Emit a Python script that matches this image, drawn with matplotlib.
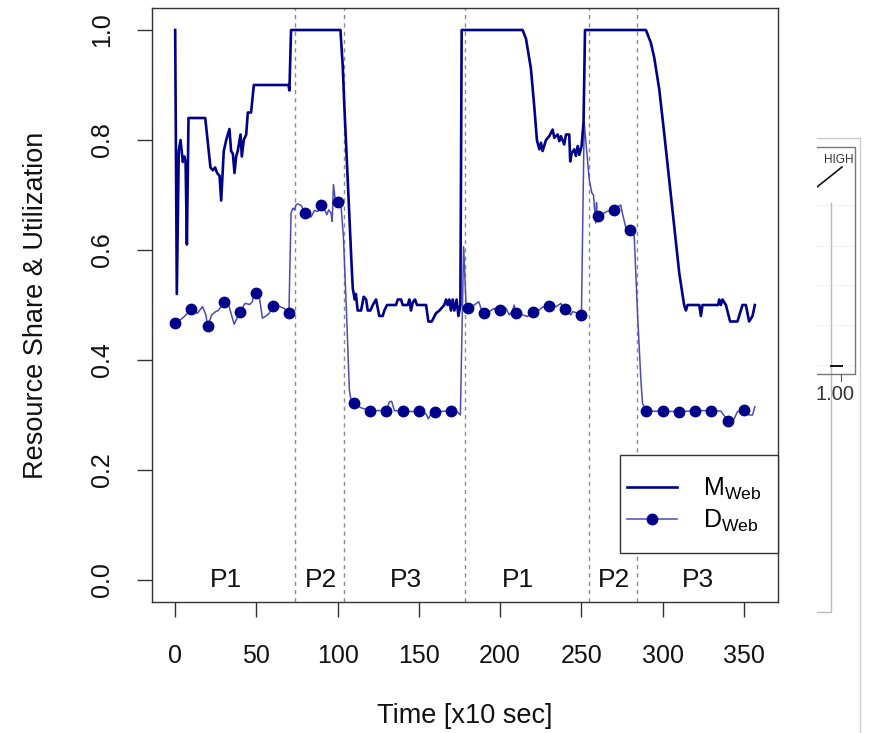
import numpy as np
import matplotlib
matplotlib.use('Agg')
import matplotlib.pyplot as plt
from matplotlib.lines import Line2D
from matplotlib.patches import Rectangle

plt.rcParams['font.family'] = ['Liberation Sans', 'DejaVu Sans']
plt.rcParams['mathtext.fontset'] = 'custom'
plt.rcParams['mathtext.rm'] = 'Liberation Sans'

# M_Web: resource share (vertices, x in units of 10 sec)
m_x = [0, 1, 2.2, 3.3, 4.7, 5.7, 6.4, 7.2, 8.2, 18.5, 21.7, 23.2, 24.6, 25.8, 27.3, 28.3,
       29.9, 31.4, 33.4, 34.4, 35.5, 36.5, 37.5, 38.5, 40.2, 41.0, 42.2, 43.7, 44.7, 46.7,
       48.4, 69.7, 70.3, 71.3, 101.7, 103.1, 104.1, 105.8, 107.2, 108.6, 109.3, 110.5,
       111.2, 112.3, 114.4, 116.0, 117.5, 118.5, 120.1, 121.6, 123.6, 125.6, 127.7, 128.7,
       130.4, 135.9, 137.0, 139.0, 140.0, 143.1, 144.1, 145.1, 146.2, 147.6, 148.8, 154.4,
       155.8, 157.9, 160.5, 162.6, 165.6, 166.7, 167.7, 168.7, 169.7, 170.8, 171.8, 173.2,
       174.3, 175.5, 176.3, 213.8, 215.9, 218.9, 221.0, 222.6, 224.1, 225.1, 226.1, 228.2,
       230.2, 232.3, 233.3, 235.4, 236.4, 237.4, 239.4, 240.5, 242.5, 243.1, 244.0, 245.6,
       246.6, 247.7, 248.7, 250.1, 251.3, 252.2, 289.7, 292.7, 294.8, 297.9, 300.9, 304.0,
       307.1, 310.2, 313.2, 314.3, 315.3, 322.5, 323.5, 324.5, 334.1, 334.8, 335.8, 336.8,
       338.9, 341.5, 346.0, 348.1, 349.1, 351.2, 353.2, 355.3, 356.7]
m_y = [1.00, 0.52, 0.78, 0.80, 0.76, 0.77, 0.76, 0.61, 0.84, 0.84, 0.75, 0.745, 0.75, 0.74,
       0.735, 0.69, 0.78, 0.80, 0.82, 0.78, 0.775, 0.74, 0.77, 0.78, 0.81, 0.77, 0.80, 0.81,
       0.85, 0.85, 0.90, 0.90, 0.89, 1.00, 1.00, 0.935, 0.862, 0.752, 0.661, 0.57, 0.53,
       0.51, 0.52, 0.49, 0.49, 0.515, 0.51, 0.49, 0.49, 0.50, 0.51, 0.48, 0.48, 0.49, 0.50,
       0.50, 0.51, 0.51, 0.50, 0.50, 0.51, 0.49, 0.505, 0.51, 0.50, 0.50, 0.47, 0.47, 0.485,
       0.49, 0.50, 0.51, 0.50, 0.51, 0.49, 0.51, 0.49, 0.51, 0.48, 0.50, 1.00, 1.00, 0.984,
       0.93, 0.86, 0.80, 0.783, 0.795, 0.78, 0.80, 0.807, 0.819, 0.804, 0.81, 0.798, 0.807,
       0.792, 0.81, 0.81, 0.761, 0.776, 0.783, 0.771, 0.789, 0.773, 0.789, 0.832, 1.00, 1.00,
       0.977, 0.95, 0.892, 0.813, 0.728, 0.643, 0.558, 0.50, 0.49, 0.50, 0.50, 0.48, 0.50,
       0.50, 0.51, 0.50, 0.51, 0.50, 0.47, 0.47, 0.49, 0.50, 0.50, 0.47, 0.48, 0.50]

# D_Web: utilization
d_x = [0, 4.5, 10, 13.7, 16.8, 18.8, 20, 22.5, 24.9, 26.5, 30, 33.2, 36.3, 40, 43, 45.9,
       47.5, 48.6, 50, 52, 53.7, 55.8, 57.9, 60, 63.8, 67, 70,
       71.3, 72.4, 73.4, 74.4, 75.4, 77.5, 80, 83.6, 85.7, 87.8, 90, 92.5, 93.3, 94.5, 95.9,
       96.6, 97.4, 98.6, 100, 102.1, 103.5, 105.2, 107.2, 108.2,
       110, 114.4, 120, 125.6, 130, 131.8, 133.2, 134.9, 140, 148.2, 150, 154.4, 155.8, 157.4,
       160, 165.6, 170, 173.8, 174.9, 175.5,
       177.5, 179, 180, 184.1, 186.8, 188.2, 190, 193.3, 196.4, 198.5, 200, 203.6, 205.6,
       207.3, 208.7, 209.3, 210, 213.8, 216.9, 218.3, 220, 224, 226.5, 228.2, 230, 234.3,
       237.4, 238.8, 240, 243.5, 244.6, 247.7, 250,
       251.7, 254.8, 256.4, 257.4, 258.3, 258.8, 259.3, 259.6, 260, 262.5, 265.5, 268.6, 270,
       274.2, 275.2, 277.4, 279.5, 280, 282.5, 284.5, 286.6, 287.6,
       290, 300, 310, 320, 330, 335.8, 337.8, 340, 344, 346, 349.1, 350, 353.2, 355.3, 356.7]
d_y = [0.467, 0.476, 0.492, 0.485, 0.497, 0.483, 0.462, 0.482, 0.488, 0.49, 0.505, 0.497,
       0.465, 0.488, 0.503, 0.501, 0.506, 0.529, 0.521, 0.51, 0.476, 0.48, 0.485, 0.499,
       0.498, 0.494, 0.486,
       0.667, 0.676, 0.673, 0.682, 0.684, 0.681, 0.667, 0.660, 0.672, 0.670, 0.681, 0.670,
       0.664, 0.673, 0.667, 0.652, 0.719, 0.689, 0.687, 0.679, 0.625, 0.504, 0.345, 0.327,
       0.321, 0.313, 0.308, 0.308, 0.308, 0.324, 0.325, 0.308, 0.307, 0.306, 0.307, 0.302,
       0.293, 0.302, 0.305, 0.307, 0.308, 0.305, 0.302, 0.300,
       0.606, 0.50, 0.494, 0.500, 0.506, 0.494, 0.485, 0.488, 0.494, 0.485, 0.491, 0.494,
       0.482, 0.488, 0.50, 0.476, 0.485, 0.482, 0.479, 0.485, 0.487, 0.491, 0.497, 0.494,
       0.499, 0.497, 0.503, 0.491, 0.493, 0.482, 0.488, 0.485, 0.482,
       0.832, 0.728, 0.704, 0.70, 0.667, 0.649, 0.686, 0.658, 0.661, 0.664, 0.670, 0.672,
       0.673, 0.682, 0.667, 0.640, 0.637, 0.637, 0.625, 0.485, 0.363, 0.321,
       0.307, 0.307, 0.306, 0.308, 0.308, 0.307, 0.299, 0.290, 0.293, 0.306, 0.308, 0.309,
       0.300, 0.300, 0.315]

phase_bounds = [74, 104, 178.5, 254.5, 284.5]
phase_labels = ['P1', 'P2', 'P3', 'P1', 'P2', 'P3']
phase_label_x = [31, 90, 142, 211, 270, 322]

x_ticks = [0, 50, 100, 150, 200, 250, 300, 350]
y_ticks = [0.0, 0.2, 0.4, 0.6, 0.8, 1.0]

navy = '#00008B'
light = '#4B4BB8'
box = '#333333'

fig = plt.figure(figsize=(8.72, 7.33), dpi=100)
W, H = 872, 733
ax = fig.add_axes([152 / W, 1 - 602 / H, (778 - 152) / W, (602 - 8) / H])

# R style 4% padding
xmin, xmax = min(m_x + d_x), max(m_x + d_x)
ax.set_xlim(xmin - 0.04 * (xmax - xmin), xmax + 0.04 * (xmax - xmin))
ax.set_ylim(-0.04, 1.04)

for b in phase_bounds:
    ax.axvline(b, color='#8a8a8a', lw=1.0, ls=(0, (3, 3)), zorder=1)

marks = [i for i, x in enumerate(d_x) if x % 10 == 0]
ax.plot(d_x, d_y, color=light, lw=1.1, marker='o', markevery=marks, ms=7.5,
        mfc=navy, mec=navy, zorder=2)
ax.plot(m_x, m_y, color=navy, lw=1.9, zorder=3)

for lx, lab in zip(phase_label_x, phase_labels):
    ax.text(lx, 0.0, lab, ha='center', va='center', fontsize=19, color='#111111')

ax.set_xticks(x_ticks)
ax.set_xticklabels([str(t) for t in x_ticks])
ax.set_yticks(y_ticks)
ax.set_yticklabels([f'{t:.1f}' for t in y_ticks])
ax.tick_params(direction='out', length=10.5, width=1, color=box, labelsize=18,
               labelcolor='#111111', pad=19)
ax.tick_params(axis='x', pad=20)
ax.tick_params(axis='y', labelrotation=90, pad=17)
for lbl in ax.get_yticklabels():
    lbl.set_va('center')
for s in ax.spines.values():
    s.set_color(box)
    s.set_linewidth(1.0)

ax.set_xlabel('Time [x10 sec]', fontsize=19.5, color='#111111', va='center')
ax.xaxis.set_label_coords(0.5, -114 / 594)
ax.set_ylabel('Resource Share & Utilization', fontsize=19.5, color='#111111', va='center')
ax.yaxis.set_label_coords(-116 / 626, 0.5)

# legend: R-style box flush with the right edge of the plot
lx0, ly0 = (620 - 152) / 626, (602 - 553) / 594
lw_, lh_ = 1 - lx0, 98 / 594
ax.add_patch(Rectangle((lx0, ly0), lw_, lh_, transform=ax.transAxes, facecolor='white',
                       edgecolor=box, lw=1.0, zorder=4, clip_on=False))
handles = [Line2D([], [], color=navy, lw=1.9),
           Line2D([], [], color=light, lw=1.1, marker='o', ms=7.5, mfc=navy, mec=navy)]
leg = ax.legend(handles, [r'M$_{\mathregular{Web}}$', r'D$_{\mathregular{Web}}$'],
                loc='center left', bbox_to_anchor=(lx0 + 7 / 626, ly0 + lh_ / 2 - 1 / 594),
                fontsize=18, frameon=False, handlelength=2.0,
                handletextpad=1.04, borderpad=0, labelspacing=0.22, numpoints=1,
                borderaxespad=0)
leg.set_zorder(5)

# cropped neighbouring panel on the right edge of the image
side = fig.add_axes([817 / W, 0, (W - 817) / W, 1])
side.set_xlim(817, W)
side.set_ylim(H, 0)
side.axis('off')
side.plot([817, 860], [138, 138], color='#cccccc', lw=1)
side.plot([860, 860], [138, H], color='#cccccc', lw=1)
side.plot([831, 831, 817], [203, 612, 612], color='#bbbbbb', lw=1)
for gy in [205, 246, 285, 325, 365]:
    side.plot([817, 855], [gy, gy], color='#e2e2e2', lw=0.8, ls=':')
side.plot([817, 855, 855, 817], [147, 147, 374, 374], color='#777777', lw=1)
side.plot([817, 842], [187, 167], color='#111111', lw=1.2)
side.plot([831, 842], [366, 366], color='#111111', lw=1.4)
side.plot([841, 841], [374, 381], color='#555555', lw=0.8)
side.text(853, 160, 'HIGH', ha='right', va='center', fontsize=8.5, color='#333333',
          clip_on=True)
side.text(854, 395, '1.00', ha='right', va='center', fontsize=14.5, color='#333333',
          clip_on=True)

fig.savefig('out.png', dpi=100)
